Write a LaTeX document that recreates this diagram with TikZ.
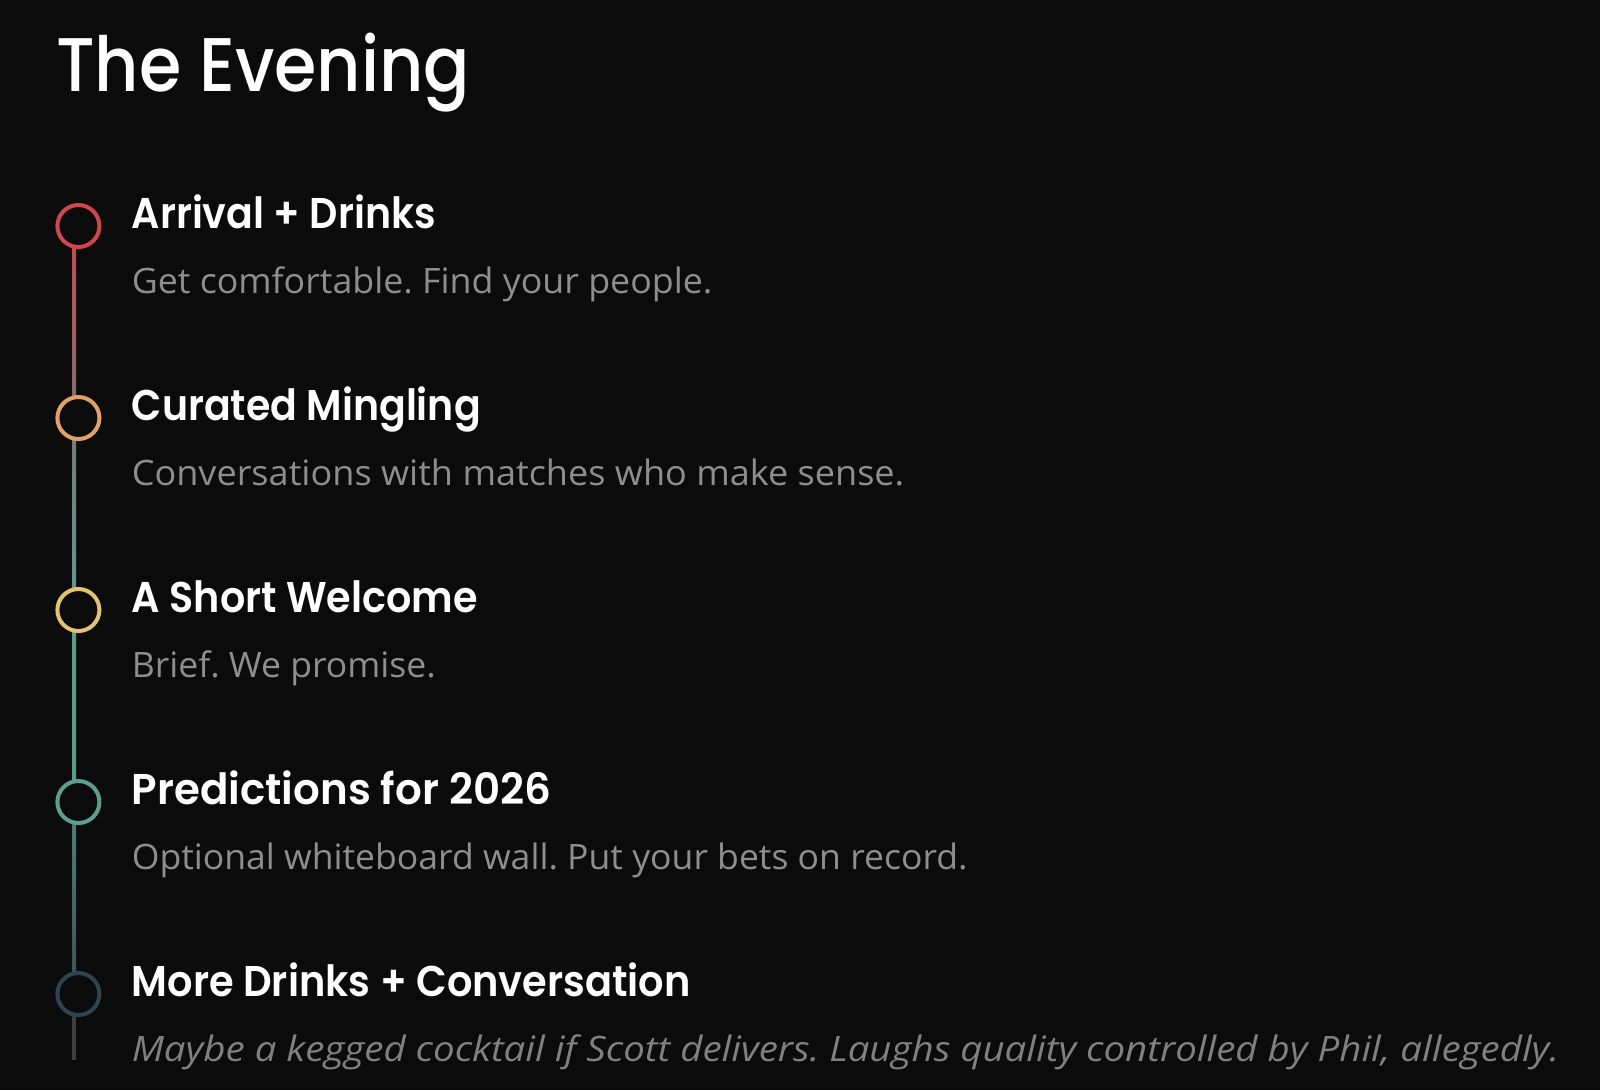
\documentclass[tikz,border=0pt]{standalone}
\usepackage{fontspec}
\usepackage{graphicx}
\setmainfont{Open Sans}
\newfontfamily\headfont{Poppins}[UprightFont=* SemiBold]
\newfontfamily\titlefont{Poppins}[UprightFont=* Medium]
\newfontfamily\descfont{Open Sans}
\definecolor{bg}{HTML}{0B0B0B}
\definecolor{desc}{HTML}{8E8E8E}
\definecolor{descit}{HTML}{808080}
\definecolor{cA}{HTML}{CF464E}
\definecolor{cB}{HTML}{E0A266}
\definecolor{cC}{HTML}{E2C372}
\definecolor{cD}{HTML}{5E9E8E}
\definecolor{cE}{HTML}{2E4450}
\definecolor{lA}{RGB}{200,72,78}
\definecolor{lB}{RGB}{128,112,112}
\definecolor{lC}{RGB}{120,120,120}
\definecolor{lD}{RGB}{95,150,135}
\definecolor{lE}{RGB}{92,155,140}
\definecolor{lF}{RGB}{80,128,120}
\definecolor{lG}{RGB}{55,80,86}
\definecolor{lH}{RGB}{62,62,62}
\newcommand\fitw[2]{\sbox0{#2}\pgfmathsetmacro\fitr{#1/\the\wd0}\scalebox{\fitr}[1]{\usebox0}}
\tikzset{
  dot/.style={circle, draw=#1, line width=4pt, fill=bg, minimum size=42pt, inner sep=0pt},
  head/.style={anchor=base west, inner sep=0pt, text=white, font=\headfont\fontsize{43}{50}\selectfont},
  sub/.style={anchor=base west, inner sep=0pt, text=desc, font=\descfont\fontsize{35}{42}\selectfont},
  subit/.style={anchor=base west, inner sep=0pt, text=descit, font=\descfont\itshape\fontsize{35}{42}\selectfont},
}
\begin{document}
\frenchspacing
\begin{tikzpicture}[x=1pt,y=-1pt]
\fill[bg] (0,0) rectangle (1600,1090);
\useasboundingbox (0,0) rectangle (1600,1090);
% title
\node[anchor=base west, inner sep=0pt, text=white, font=\titlefont\fontsize{76}{90}\selectfont] (title) at (56,91) {\fitw{414}{The Evening}};
% line segments
\shade[top color=lA, bottom color=lB] (72,226) rectangle (76,418);
\shade[top color=lC, middle color=lD, bottom color=lE] (72,418) rectangle (76,610);
\shade[top color=lE, bottom color=lE] (72,610) rectangle (76,802);
\shade[top color=lF, bottom color=lG] (72,802) rectangle (76,994);
\fill[lH] (72,994) rectangle (76,1060);
% dots
\node[dot=cA] (d1) at (78.4,226) {};
\node[dot=cB] (d2) at (78.4,418) {};
\node[dot=cC] (d3) at (78.4,610) {};
\node[dot=cD] (d4) at (78.4,802) {};
\node[dot=cE] (d5) at (78.4,994) {};
% texts
\node[head] (h1) at (131.6,228) {\fitw{304}{Arrival + Drinks}};
\node[sub]  (s1) at (131.6,293) {\fitw{580.6}{Get comfortable. Find your people.}};
\node[head] (h2) at (131.6,420) {\fitw{349}{Curated Mingling}};
\node[sub]  (s2) at (131.6,485) {\fitw{772.5}{Conversations with matches who make sense.}};
\node[head] (h3) at (131.6,612) {\fitw{346}{A Short Welcome}};
\node[sub]  (s3) at (131.6,677) {\fitw{304}{Brief. We promise.}};
\node[head] (h4) at (131.6,804) {\fitw{419.4}{Predictions for 2026}};
\node[sub]  (s4) at (131.6,869) {\fitw{835.7}{Optional whiteboard wall. Put your bets on record.}};
\node[head] (h5) at (131.6,996) {\fitw{559}{More Drinks + Conversation}};
\node[subit] (s5) at (131.6,1061) {\fitw{1427.6}{Maybe a kegged cocktail if Scott delivers. Laughs quality controlled by Phil, allegedly.}};
\end{tikzpicture}
\end{document}
